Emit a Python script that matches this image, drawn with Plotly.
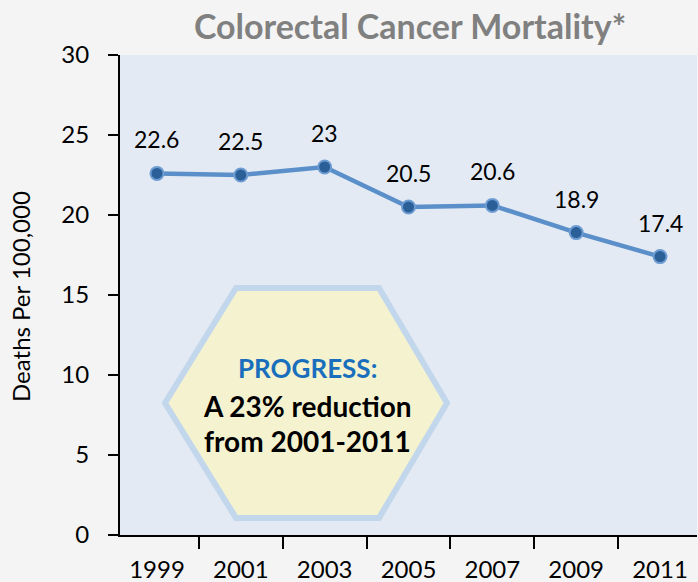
import plotly.graph_objects as go

years = ["1999", "2001", "2003", "2005", "2007", "2009", "2011"]
deaths = [22.6, 22.5, 23.0, 20.5, 20.6, 18.9, 17.4]
labels = ["22.6", "22.5", "23", "20.5", "20.6", "18.9", "17.4"]
y_ticks = [0, 5, 10, 15, 20, 25, 30]

FONT = "Lato, Carlito, 'Open Sans', sans-serif"
W, H = 698, 582
L, R, T, B = 120, 1, 55, 47

fig = go.Figure()
fig.add_trace(go.Scatter(
    x=years, y=deaths, mode="lines+markers",
    line=dict(color="#5b8fc9", width=4.5),
    marker=dict(size=13, color="#2b5f98", line=dict(color="#6d9cd2", width=2)),
    hoverinfo="skip", showlegend=False,
))

for i, (yv, t) in enumerate(zip(deaths, labels)):
    fig.add_annotation(x=i, y=yv, xref="x", yref="y", text=t, showarrow=False, yshift=34,
                       xanchor="center", yanchor="middle",
                       font=dict(family=FONT, size=23, color="#000000"))

# hexagon callout (pixel positions converted to paper coordinates)
pw, ph = W - L - R, H - T - B
def px(x):
    return (x - L) / pw
def py(y):
    return (H - B - y) / ph
pts = [(165, 403), (236, 288), (379, 288), (447, 403), (379, 518), (236, 518)]
path = "M " + " L ".join(f"{px(a):.4f},{py(b):.4f}" for a, b in pts) + " Z"
fig.add_shape(type="path", xref="paper", yref="paper", path=path,
              fillcolor="#f5f3cf", line=dict(color="#c3d7ec", width=6), layer="above")

fig.add_annotation(xref="paper", yref="paper", x=px(307), y=py(368), showarrow=False,
                   xanchor="center", yanchor="middle",
                   text="<b>PROGRESS:</b>", font=dict(family=FONT, size=26, color="#1a6fbd"))
fig.add_annotation(xref="paper", yref="paper", x=px(307), y=py(406), showarrow=False,
                   xanchor="center", yanchor="middle",
                   text="<b>A 23% reduction</b>", font=dict(family=FONT, size=28, color="#000000"))
fig.add_annotation(xref="paper", yref="paper", x=px(307), y=py(441), showarrow=False,
                   xanchor="center", yanchor="middle",
                   text="<b>from 2001-2011</b>", font=dict(family=FONT, size=28, color="#000000"))

# y-axis title as rotated annotation
fig.add_annotation(xref="paper", yref="paper", x=px(20), y=py(297), showarrow=False,
                   xanchor="center", yanchor="middle",
                   textangle=-90, text="Deaths Per 100,000",
                   font=dict(family=FONT, size=24, color="#000000"))

fig.update_layout(
    width=W, height=H,
    margin=dict(l=L, r=R, t=T, b=B, autoexpand=False),
    paper_bgcolor="#f4f4f4",
    plot_bgcolor="#e3eaf4",
    title=dict(text="<b>Colorectal Cancer Mortality*</b>", x=410 / W,
               xanchor="center", y=1 - 27 / H, yanchor="middle",
               font=dict(family=FONT, size=34, color="#808080")),
    yaxis=dict(range=[0, 30], tickvals=y_ticks, showgrid=False, zeroline=False,
               showline=True, linecolor="#000000", linewidth=2, automargin=False,
               ticks="outside", ticklen=10, tickwidth=2, tickcolor="#000000",
               ticklabelstandoff=14,
               tickfont=dict(family=FONT, size=24, color="#000000")),
    xaxis=dict(type="category", showgrid=False, zeroline=False, automargin=False,
               showline=True, linecolor="#000000", linewidth=2,
               ticks="outside", tickson="boundaries", ticklen=12, tickwidth=2,
               tickcolor="#000000", ticklabelstandoff=12,
               tickfont=dict(family=FONT, size=24, color="#000000")),
)

fig.write_html(
    "out.html",
    config={"displayModeBar": False},
    post_script="document.body.style.margin='0';document.body.style.padding='0';"
                "document.body.style.background='#f4f4f4';document.body.style.overflow='hidden';",
)
